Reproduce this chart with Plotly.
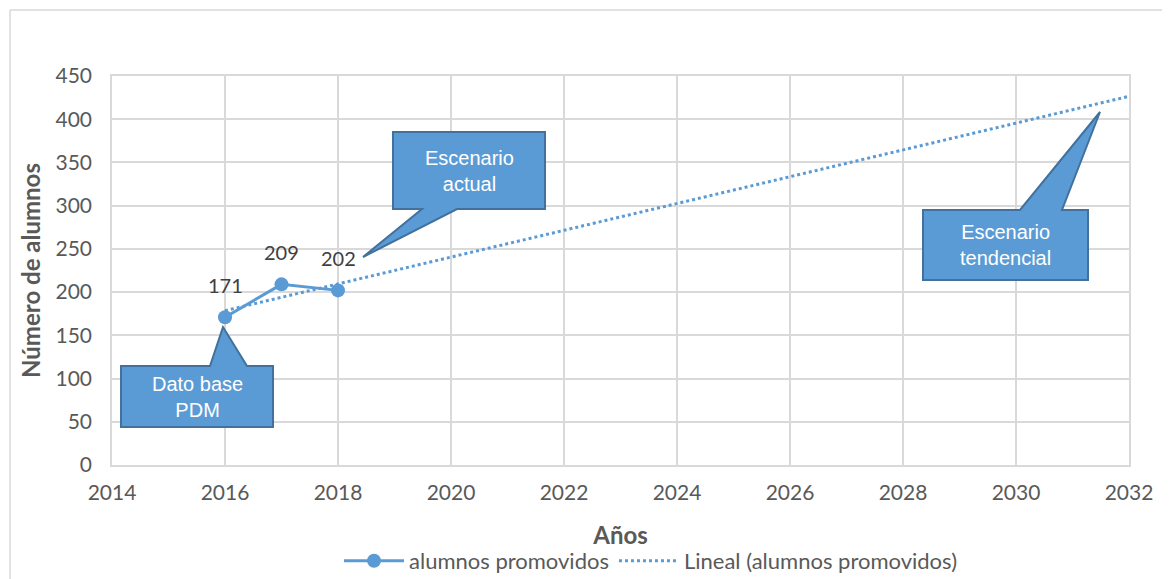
import plotly.graph_objects as go

# ---- data ----
years = [2016, 2017, 2018]
promovidos = [171, 209, 202]
trend_years = [2016, 2032]
trend_values = [178.5, 426.5]   # Excel linear trendline
x_ticks = [2014, 2016, 2018, 2020, 2022, 2024, 2026, 2028, 2030, 2032]
y_ticks = [0, 50, 100, 150, 200, 250, 300, 350, 400, 450]

BLUE = "#5B9BD5"
EDGE = "#41719C"
GRID = "#D9D9D9"
TXT = "#595959"
FONT = "Lato, Calibri, Noto Sans, sans-serif"
CALLFONT = "Liberation Sans Narrow, Liberation Sans, Arial, sans-serif"

W, H = 1170, 579
OFF = 8  # page body margin offset
# desired plot area in screen pixels
PX0, PX1, PY0, PY1 = 112, 1129, 76, 465
L, T = PX0 - OFF, PY0 - OFF
R = (W + OFF) - PX1
B = (H + OFF) - PY1
X0, X1 = 2014, 2032
Y0, Y1 = 0, 450
PW, PH = PX1 - PX0, PY1 - PY0

def dx(px):
    return X0 + (px - PX0) / PW * (X1 - X0)

def dy(py):
    return Y0 + (PY1 - py) / PH * (Y1 - Y0)

def fx(px):
    return (px - PX0) / PW

def fy(py):
    return (PY1 - py) / PH

fig = go.Figure()

fig.add_trace(go.Scatter(
    x=years, y=promovidos, mode="lines+markers", name="alumnos promovidos",
    line=dict(color=BLUE, width=3), marker=dict(color=BLUE, size=14),
))
fig.add_trace(go.Scatter(
    x=trend_years, y=trend_values, mode="lines", name="Lineal (alumnos promovidos)",
    line=dict(color=BLUE, width=3, dash="dot"),
))

# data labels
for xv, yv in zip(years, promovidos):
    fig.add_annotation(x=xv, y=yv, text=str(yv), showarrow=False, yshift=32,
                       font=dict(family=FONT, size=20, color="#404040"))

# callouts (screen-pixel geometry -> data coords)
callouts = [
    ((121, 366, 273, 427), (210, 247, (223, 327)), "Dato base<br>PDM", "top"),
    ((393, 132, 545, 209), (422, 457, (363, 257)), "Escenario<br>actual", "bottom"),
    ((923, 210, 1088, 280), (1020, 1062, (1100, 112)), "Escenario<br>tendencial", "top"),
]
for (rx0, ry0, rx1, ry1), (bl, br, (tx, ty)), text, edge in callouts:
    if edge == "top":
        pts = [(rx0, ry0), (bl, ry0), (tx, ty), (br, ry0), (rx1, ry0), (rx1, ry1), (rx0, ry1)]
    else:
        pts = [(rx0, ry0), (rx1, ry0), (rx1, ry1), (br, ry1), (tx, ty), (bl, ry1), (rx0, ry1)]
    path = "M " + " L ".join(f"{dx(px):.5f},{dy(py):.5f}" for px, py in pts) + " Z"
    fig.add_shape(type="path", path=path, xref="x", yref="y",
                  fillcolor=BLUE, line=dict(color=EDGE, width=2), layer="above")
    fig.add_annotation(x=dx((rx0 + rx1) / 2), y=dy((ry0 + ry1) / 2), text=text,
                       showarrow=False, xref="x", yref="y",
                       font=dict(family=CALLFONT, size=20, color="white"))

# chart area border (left and top edges visible)
fig.add_shape(type="line", xref="paper", yref="paper",
              x0=fx(10), x1=fx(10), y0=fy(10), y1=fy(600),
              line=dict(color=GRID, width=1.5))
fig.add_shape(type="line", xref="paper", yref="paper",
              x0=fx(10), x1=fx(1200), y0=fy(10), y1=fy(10),
              line=dict(color=GRID, width=1.5))

fig.update_layout(
    width=W, height=H,
    margin=dict(l=L, r=R, t=T, b=B, autoexpand=False),
    paper_bgcolor="white", plot_bgcolor="white",
    font=dict(family=FONT, color=TXT),
    showlegend=True,
    legend=dict(orientation="h", x=fx(651), xanchor="center", y=fy(561), yanchor="middle",
                font=dict(family=FONT, size=22, color=TXT), itemwidth=60,
                tracegroupgap=0),
    xaxis=dict(range=[X0, X1], tickvals=x_ticks, ticktext=[str(v) for v in x_ticks],
               showgrid=True, gridcolor=GRID, gridwidth=1.5, zeroline=False,
               showline=True, linecolor=GRID, linewidth=1.5, mirror=True,
               ticks="", tickfont=dict(size=21, color=TXT), ticklabelstandoff=8,
               title=dict(text="<b>Años</b>", font=dict(size=24, color=TXT), standoff=24)),
    yaxis=dict(range=[Y0, Y1], tickvals=y_ticks,
               showgrid=True, gridcolor=GRID, gridwidth=1.5, zeroline=False,
               showline=True, linecolor=GRID, linewidth=1.5, mirror=True,
               ticks="", tickfont=dict(size=21, color=TXT), ticklabelstandoff=14,
               title=dict(text="<b>Número de alumnos</b>", font=dict(size=24, color=TXT), standoff=8)),
)

fig.write_html("out.html")
